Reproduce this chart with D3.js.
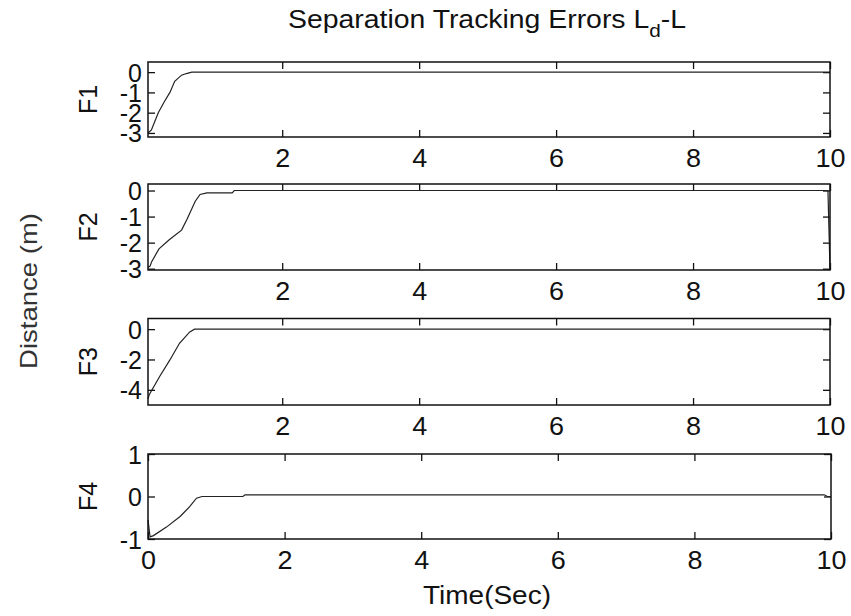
<!DOCTYPE html>
<html>
<head>
<meta charset="utf-8">
<script src="https://cdn.jsdelivr.net/npm/d3@7"></script>
<style>
  body { margin: 0; background: #fff; }
  svg { display: block; font-family: "Liberation Sans", Arial, sans-serif; }
  .axis text { fill: #111; font-size: 25px; }
</style>
</head>
<body>
<div id="chart"></div>
<script>
const panelNames = ["F1", "F2", "F3", "F4"];

// error curves: [time, error]
const f1 = [[0.04,-3.0],[0.09,-2.85],[0.19,-2.0],[0.28,-1.45],[0.36,-1.0],[0.43,-0.45],[0.47,-0.33],
            [0.53,-0.15],[0.6,-0.07],[0.68,0],[10,0]];
const f2 = [[0.04,-2.95],[0.07,-2.9],[0.09,-2.75],[0.2,-2.24],[0.35,-1.89],[0.53,-1.52],[0.61,-1.1],
            [0.73,-0.41],[0.8,-0.15],[0.9,-0.09],[1.27,-0.09],[1.3,0],[9.97,0],[10,-3.05]];
const f3 = [[0.04,-4.6],[0.06,-4.3],[0.21,-3.12],[0.36,-2.03],[0.5,-0.93],[0.65,-0.18],[0.72,0],[10,0]];
const f4 = [[0,-0.55],[0.03,-0.95],[0.08,-0.92],[0.27,-0.72],[0.47,-0.47],[0.61,-0.24],[0.71,-0.04],
            [0.79,0],[1.39,0],[1.42,0.04],[9.9,0.04],[9.95,0.0],[10,0.0]];
const series = [f1, f2, f3, f4];

// axis limits and ticks per panel
const xDomains = [[0.04,10],[0.04,10],[0.04,10],[0,10]];
const yDomains = [[-3.2,0.5],[-3.05,0.25],[-5,0.7],[-1,1]];
const xTicks = [[2,4,6,8,10],[2,4,6,8,10],[2,4,6,8,10],[0,2,4,6,8,10]];
const yTicks = [[0,-1,-2,-3],[0,-1,-2,-3],[0,-2,-4],[1,0,-1]];

const title = "Separation Tracking Errors L";
const xLabel = "Time(Sec)";
const yLabel = "Distance (m)";

const W = 851, H = 616;
const boxes = [
  {left: 148, top: 62, right: 830, bottom: 137},
  {left: 148, top: 184, right: 830, bottom: 270},
  {left: 148, top: 318.5, right: 830, bottom: 405},
  {left: 148, top: 454, right: 831, bottom: 539}
];
const tickLen = 7;

const svg = d3.select("#chart").append("svg")
    .attr("width", W).attr("height", H);

const line = d3.line();

boxes.forEach(function(b, i) {
  const x = d3.scaleLinear().domain(xDomains[i]).range([b.left, b.right]);
  const y = d3.scaleLinear().domain(yDomains[i]).range([b.bottom, b.top]);
  const g = svg.append("g");

  // inner ticks on all four sides (matlab style)
  const xa = g.append("g").attr("class", "axis")
      .attr("transform", "translate(0," + b.bottom + ")")
      .call(d3.axisBottom(x).tickValues(xTicks[i]).tickSize(-tickLen).tickFormat(d => String(d)))
      .call(a => a.select(".domain").remove());
  xa.selectAll("text").attr("y", 30).attr("dy", null).attr("textLength", d => String(d).length * 15).attr("lengthAdjust", "spacingAndGlyphs");
  g.append("g").attr("class", "axis")
      .attr("transform", "translate(0," + b.top + ")")
      .call(d3.axisTop(x).tickValues(xTicks[i]).tickSize(-tickLen).tickFormat(""))
      .call(a => a.select(".domain").remove());
  const ya = g.append("g").attr("class", "axis")
      .attr("transform", "translate(" + b.left + ",0)")
      .call(d3.axisLeft(y).tickValues(yTicks[i]).tickSize(-tickLen).tickFormat(d => String(d)))
      .call(a => a.select(".domain").remove());
  ya.selectAll("text").attr("x", -6).attr("dy", null).attr("dominant-baseline", "central");
  g.append("g").attr("class", "axis")
      .attr("transform", "translate(" + b.right + ",0)")
      .call(d3.axisRight(y).tickValues(yTicks[i]).tickSize(-tickLen).tickFormat(""))
      .call(a => a.select(".domain").remove());
  g.selectAll(".tick line").attr("stroke", "#111").attr("stroke-width", 1.3);

  g.append("path")
      .datum(series[i])
      .attr("fill", "none")
      .attr("stroke", "#222")
      .attr("stroke-width", 1.2)
      .attr("d", line.x(d => x(d[0])).y(d => y(d[1])));

  g.append("rect")
      .attr("x", b.left).attr("y", b.top)
      .attr("width", b.right - b.left).attr("height", b.bottom - b.top)
      .attr("fill", "none").attr("stroke", "#111").attr("stroke-width", 1.5);

  svg.append("text")
      .attr("transform", "translate(97," + ((b.top + b.bottom) / 2) + ") rotate(-90)")
      .attr("text-anchor", "middle")
      .attr("font-size", 25).attr("fill", "#111")
      .text(panelNames[i]);
});

const t = svg.append("text")
    .attr("x", 487).attr("y", 28)
    .attr("text-anchor", "middle")
    .attr("font-size", 26).attr("fill", "#111")
    .attr("textLength", 398).attr("lengthAdjust", "spacingAndGlyphs");
t.append("tspan").text(title);
t.append("tspan").attr("font-size", 19).attr("dy", 9).text("d");
t.append("tspan").attr("dy", -9).text("-L");

svg.append("text")
    .attr("x", 487).attr("y", 604)
    .attr("text-anchor", "middle")
    .attr("font-size", 25).attr("fill", "#111")
    .attr("textLength", 128).attr("lengthAdjust", "spacingAndGlyphs")
    .text(xLabel);

svg.append("text")
    .attr("transform", "translate(37,291) rotate(-90)")
    .attr("text-anchor", "middle")
    .attr("font-size", 24).attr("fill", "#333")
    .attr("textLength", 156).attr("lengthAdjust", "spacingAndGlyphs")
    .text(yLabel);
</script>
</body>
</html>
